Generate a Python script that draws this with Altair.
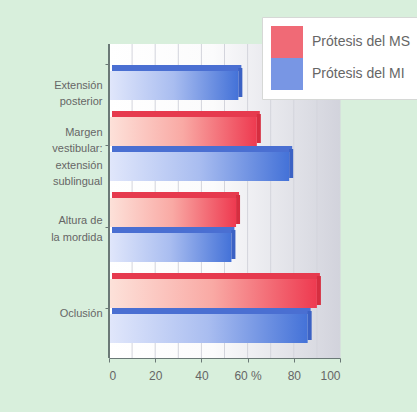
import altair as alt
import pandas as pd

categories = [
    "Extensión\nposterior",
    "Margen\nvestibular:\nextensión\nsublingual",
    "Altura de\nla mordida",
    "Oclusión",
]
series = ["Prótesis del MS", "Prótesis del MI"]
ms_values = [None, 64, 55, 90]
mi_values = [56, 78, 53, 86]
x_ticks = list(range(0, 101, 10))

rows = []
for c, a, b in zip(categories, ms_values, mi_values):
    if a is not None:
        rows.append({"cat": c, "series": series[0], "value": a})
    if b is not None:
        rows.append({"cat": c, "series": series[1], "value": b})
df = pd.DataFrame(rows)
grid_df = pd.DataFrame({"value": x_ticks[1:]})

FONT = "Liberation Sans"
TXT = "#666666"
AX = "#6a7876"


def grad(stops):
    return alt.LinearGradient(
        gradient="linear",
        stops=[alt.GradientStop(color=c, offset=o) for o, c in stops],
        x1=0, x2=1, y1=0, y2=0,
    )


y_enc = alt.Y(
    "cat:N",
    sort=categories,
    scale=alt.Scale(range=[-14, 299], paddingInner=0.136, paddingOuter=0),
    axis=alt.Axis(
        title=None,
        labelExpr="split(datum.label, '\\n')",
        labelFont=FONT,
        labelFontSize=11,
        labelLineHeight=16.5,
        labelColor=TXT,
        labelPadding=3,
        tickSize=4,
        tickColor=AX,
        domain=False,
        labelOffset={
            "condition": [
                {"test": "indexof(datum.value, 'Extensi') >= 0", "value": 21},
                {"test": "indexof(datum.value, 'Margen') >= 0", "value": -13},
                {"test": "indexof(datum.value, 'Altura') >= 0", "value": -6},
            ],
            "value": 6,
        },
    ),
)
x_axis = alt.Axis(
    title=None,
    values=x_ticks,
    labelExpr="datum.value % 20 == 0 ? (datum.value == 60 ? '60 %' : datum.label) : ''",
    labelFont=FONT,
    labelFontSize=12,
    labelColor=TXT,
    labelPadding=8,
    tickSize=4,
    tickColor=AX,
    domainColor=AX,
    grid=False,
)
x_enc = alt.X("value:Q", scale=alt.Scale(domain=[0, 100]), axis=x_axis)

panel = alt.Chart(df).mark_rect(
    color=grad([(0, "#ffffff"), (0.45, "#fbfbfc"), (1, "#d2d3dc")])
).encode(x=alt.datum(0), x2=alt.datum(100))

grid = alt.Chart(grid_df).mark_rule(color="#d3d4dc", strokeWidth=1).encode(x=x_enc)

base = alt.Chart(df).encode(y=y_enc, x=x_enc)
ms = base.transform_filter(alt.datum.series == series[0])
mi = base.transform_filter(alt.datum.series == series[1])

ms_body = ms.mark_bar(
    height=29, yOffset=-14.5, clip=True,
    color=grad([(0, "#fde2da"), (0.5, "#f9a9a4"), (1, "#ee3a50")]),
)
ms_top = ms.mark_bar(height=6, yOffset=-32, xOffset=3, x2Offset=3, color="#e63a4e", clip=True)
ms_side = ms.mark_bar(height=29, yOffset=-17.5, x2Offset=4, color="#d62e40", clip=True).encode(x2="value:Q")

mi_body = mi.mark_bar(
    height=29, yOffset=20.5, clip=True,
    color=grad([(0, "#e1e7fb"), (0.5, "#a9bdf0"), (1, "#4472d8")]),
)
mi_top = mi.mark_bar(height=6, yOffset=3, xOffset=3, x2Offset=3, color="#4a6fd2", clip=True)
mi_side = mi.mark_bar(height=29, yOffset=17.5, x2Offset=4, color="#3c62c4", clip=True).encode(x2="value:Q")

axis_line = alt.Chart(df).mark_rule(color=AX).encode(x=alt.datum(0))

legend_layer = alt.Chart(df).mark_square(size=0, opacity=0).encode(
    color=alt.Color(
        "series:N",
        scale=alt.Scale(domain=series, range=["#f06a76", "#7896e4"]),
        legend=alt.Legend(
            title=None,
            orient="none",
            legendX=153,
            legendY=-27,
            symbolType="square",
            symbolSize=1024,
            symbolOpacity=1,
            symbolStrokeWidth=0,
            labelFont=FONT,
            labelFontSize=14,
            labelColor=TXT,
            labelOffset=9,
            rowPadding=0,
            padding=9,
            fillColor="white",
            strokeColor="#d6d8d6",
            labelLimit=300,
        ),
    )
)

chart = alt.layer(
    panel, grid, ms_body, ms_top, ms_side, mi_body, mi_top, mi_side, axis_line, legend_layer
).properties(
    width=231,
    height=314,
    autosize=alt.AutoSizeParams(type="none"),
    padding={"left": 109, "top": 44, "right": 77, "bottom": 54},
    background="#d8efdc",
).configure_view(
    stroke="transparent",
)

chart.save("out.html", embed_options={"renderer": "svg", "actions": False})
